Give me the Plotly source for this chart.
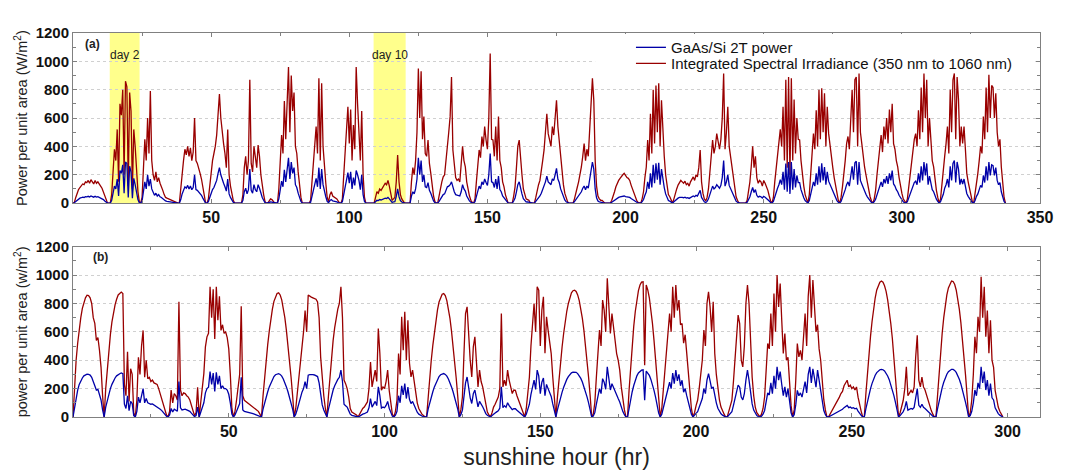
import plotly.graph_objects as go

STEP = 0.5  # sampling interval of both records, in hours

# ---------------- panel (a): measured record ----------------
red_a = [
    0, 5, 40, 70, 95, 110, 120, 135, 130, 150, 145, 160, 140, 165, 150, 135, 160, 140, 150, 130, 120, 105, 80, 50,
    20, 0, 0, 0, 60, 200, 380, 300, 520, 150, 700, 620, 800, 200, 860, 820, 120, 780, 650, 100, 520, 400, 220, 80,
    10, 0, 40, 250, 450, 300, 600, 350, 790, 300, 200, 160, 220, 150, 180, 140, 120, 90, 60, 40, 35, 30, 25, 20,
    15, 10, 5, 0, 0, 0, 80, 200, 300, 380, 340, 400, 330, 390, 300, 360, 600, 300, 280, 250, 210, 170, 110, 40,
    0, 0, 30, 120, 220, 300, 350, 400, 480, 650, 770, 600, 480, 420, 350, 250, 520, 200, 120, 60, 20, 0, 0, 0,
    0, 0, 0, 60, 250, 330, 200, 300, 870, 280, 220, 400, 300, 250, 410, 330, 200, 120, 60, 10, 0, 0, 20, 30,
    25, 10, 0, 0, 0, 100, 300, 480, 350, 720, 450, 800, 960, 500, 900, 650, 780, 400, 350, 220, 110, 40, 0, 0,
    0, 0, 0, 0, 20, 150, 300, 420, 540, 350, 880, 300, 845, 400, 250, 140, 40, 10, 60, 80, 50, 45, 40, 30,
    15, 0, 0, 30, 200, 350, 500, 680, 420, 660, 300, 550, 380, 960, 700, 500, 300, 650, 200, 40, 0, 0, 0, 0,
    0, 0, 0, 40, 80, 70, 100, 90, 110, 120, 140, 130, 160, 120, 60, 20, 30, 40, 150, 340, 150, 60, 30, 10,
    0, 0, 0, 0, 0, 150, 250, 200, 300, 500, 950, 600, 930, 450, 610, 350, 330, 445, 280, 210, 120, 50, 10, 0,
    0, 40, 100, 150, 185, 200, 300, 350, 500, 610, 890, 375, 250, 180, 160, 170, 150, 250, 400, 300, 255, 150, 90, 50,
    20, 5, 0, 30, 150, 300, 375, 320, 470, 400, 540, 445, 380, 600, 1055, 450, 445, 330, 540, 300, 610, 300, 250, 150,
    115, 60, 20, 0, 0, 0, 0, 50, 115, 250, 400, 445, 300, 200, 100, 60, 30, 25, 20, 0, 0, 0, 0, 40,
    90, 130, 160, 220, 300, 375, 480, 630, 490, 445, 400, 540, 480, 600, 725, 540, 445, 300, 210, 130, 70, 30, 10, 0,
    0, 0, 0, 30, 80, 110, 150, 200, 255, 330, 420, 300, 380, 330, 540, 700, 880, 725, 300, 120, 50, 30, 20, 20,
    10, 0, 0, 0, 0, 0, 20, 45, 80, 115, 140, 160, 175, 190, 200, 210, 195, 180, 175, 160, 127, 100, 70, 40,
    20, 5, 0, 0, 30, 80, 180, 255, 445, 300, 630, 350, 800, 420, 830, 500, 845, 400, 725, 490, 330, 200, 115, 60,
    45, 20, 0, 30, 70, 100, 127, 150, 160, 150, 140, 155, 130, 140, 120, 150, 170, 185, 160, 200, 185, 250, 375, 150,
    70, 30, 15, 40, 100, 200, 300, 445, 350, 400, 490, 420, 380, 450, 600, 915, 380, 500, 680, 400, 330, 250, 160, 100,
    45, 20, 0, 0, 0, 0, 0, 0, 20, 80, 150, 260, 400, 250, 330, 180, 140, 160, 150, 120, 160, 140, 115, 90,
    50, 15, 0, 40, 150, 250, 330, 420, 520, 400, 680, 300, 870, 250, 890, 200, 880, 300, 730, 350, 600, 450, 445, 300,
    185, 120, 60, 20, 0, 60, 210, 330, 490, 380, 655, 400, 800, 450, 810, 500, 775, 400, 680, 490, 400, 330, 250, 180,
    115, 60, 20, 0, 40, 115, 200, 300, 420, 470, 380, 600, 800, 500, 870, 890, 400, 915, 500, 420, 330, 255, 200, 140,
    90, 45, 15, 0, 30, 90, 200, 300, 400, 480, 360, 540, 450, 600, 420, 660, 500, 700, 420, 380, 300, 255, 180, 115,
    70, 30, 10, 0, 30, 110, 200, 300, 350, 450, 490, 400, 655, 450, 815, 500, 915, 600, 870, 400, 600, 400, 300, 255,
    150, 90, 40, 0, 30, 115, 200, 330, 420, 540, 350, 800, 500, 870, 915, 450, 890, 730, 400, 540, 420, 540, 380, 210,
    150, 100, 50, 10, 0, 60, 150, 210, 300, 400, 350, 610, 450, 815, 500, 905, 600, 830, 815, 600, 775, 500, 400, 450,
    255, 115, 40, 0,
]
blue_a = [
    0, 2, 12, 22, 30, 35, 38, 42, 40, 46, 44, 48, 43, 50, 46, 42, 48, 43, 45, 40, 37, 32, 25, 15,
    6, 0, 0, 0, 20, 70, 120, 100, 170, 50, 230, 210, 270, 70, 290, 280, 40, 260, 220, 35, 175, 130, 75, 25,
    3, 0, 15, 85, 150, 100, 200, 120, 170, 100, 70, 55, 70, 50, 60, 45, 40, 30, 20, 15, 12, 10, 8, 6,
    5, 3, 2, 0, 0, 0, 25, 65, 95, 115, 105, 125, 100, 120, 95, 110, 200, 95, 90, 80, 65, 55, 35, 12,
    0, 0, 10, 40, 70, 95, 110, 130, 160, 210, 250, 200, 160, 140, 115, 85, 170, 65, 40, 20, 6, 0, 0, 0,
    0, 0, 0, 20, 80, 105, 65, 95, 240, 90, 70, 130, 95, 80, 130, 105, 65, 40, 20, 3, 0, 0, 5, 8,
    7, 3, 0, 0, 0, 30, 95, 155, 115, 235, 150, 260, 320, 170, 290, 210, 250, 130, 110, 70, 35, 12, 0, 0,
    0, 0, 0, 0, 6, 50, 95, 135, 175, 115, 250, 100, 240, 130, 80, 45, 12, 3, 18, 25, 15, 14, 12, 9,
    4, 0, 0, 10, 65, 110, 160, 215, 140, 220, 100, 180, 125, 230, 200, 160, 95, 200, 60, 12, 0, 0, 0, 0,
    0, 0, 0, 10, 20, 18, 25, 22, 28, 30, 35, 32, 40, 30, 15, 5, 8, 10, 45, 100, 45, 18, 8, 3,
    0, 0, 0, 0, 0, 50, 80, 65, 100, 170, 320, 200, 300, 150, 200, 115, 110, 145, 90, 70, 40, 15, 3, 0,
    0, 12, 30, 50, 60, 65, 95, 115, 120, 130, 150, 110, 80, 60, 55, 55, 50, 80, 130, 100, 85, 50, 30, 16,
    6, 2, 0, 10, 50, 95, 120, 100, 150, 130, 170, 145, 125, 200, 350, 150, 145, 110, 170, 100, 190, 95, 80, 50,
    38, 20, 6, 0, 0, 0, 0, 15, 35, 80, 130, 150, 100, 65, 32, 18, 9, 8, 6, 0, 0, 0, 0, 12,
    28, 40, 50, 70, 95, 120, 150, 190, 150, 140, 130, 170, 160, 200, 245, 170, 145, 100, 68, 42, 22, 9, 3, 0,
    0, 0, 0, 10, 25, 35, 48, 65, 80, 105, 120, 95, 120, 105, 170, 230, 290, 240, 100, 38, 15, 9, 6, 6,
    3, 0, 0, 0, 0, 0, 6, 14, 22, 30, 35, 40, 44, 46, 48, 50, 46, 45, 43, 40, 32, 25, 18, 10,
    5, 1, 0, 0, 10, 25, 55, 80, 150, 100, 210, 110, 270, 140, 280, 165, 285, 130, 240, 160, 110, 65, 36, 18,
    14, 6, 0, 10, 20, 28, 35, 40, 42, 40, 38, 42, 35, 38, 33, 40, 45, 50, 45, 55, 50, 70, 90, 40,
    20, 9, 4, 12, 30, 60, 90, 120, 100, 110, 130, 115, 105, 125, 180, 300, 120, 150, 200, 125, 100, 75, 50, 30,
    14, 6, 0, 0, 0, 0, 0, 0, 6, 25, 45, 80, 110, 75, 95, 55, 42, 48, 45, 36, 48, 42, 35, 27,
    15, 4, 0, 12, 48, 80, 105, 130, 165, 130, 220, 95, 280, 80, 290, 65, 290, 95, 240, 110, 195, 145, 145, 95,
    60, 38, 18, 6, 0, 18, 65, 100, 150, 120, 210, 130, 260, 145, 280, 160, 255, 130, 220, 155, 130, 105, 80, 55,
    36, 18, 6, 0, 12, 36, 62, 95, 130, 150, 120, 195, 260, 165, 285, 295, 130, 290, 160, 135, 105, 80, 62, 44,
    28, 14, 5, 0, 10, 28, 62, 95, 125, 150, 115, 170, 140, 190, 135, 210, 160, 230, 135, 120, 95, 80, 55, 36,
    22, 9, 3, 0, 10, 35, 65, 95, 110, 145, 155, 130, 210, 145, 260, 160, 290, 195, 280, 130, 190, 130, 95, 80,
    48, 28, 12, 0, 10, 36, 62, 105, 130, 170, 110, 260, 160, 280, 300, 145, 290, 240, 130, 170, 135, 170, 120, 68,
    48, 32, 15, 3, 0, 18, 48, 65, 95, 125, 110, 195, 145, 260, 160, 290, 195, 270, 265, 195, 250, 160, 130, 145,
    80, 36, 12, 0,
]

# ---------------- panel (b): modelled record ----------------
red_b = [
    0, 250, 400, 520, 620, 700, 765, 810, 840, 858, 855, 840, 800, 700, 660, 540, 560, 470, 350, 150, 0, 200, 350, 480,
    580, 670, 740, 790, 830, 860, 870, 880, 870, 230, 150, 460, 110, 340, 300, 30, 0, 120, 420, 300, 500, 610, 280, 400,
    270, 280, 250, 260, 240, 235, 230, 200, 165, 130, 90, 50, 15, 0, 40, 190, 100, 165, 150, 120, 812, 190, 150, 170,
    165, 150, 140, 120, 80, 40, 10, 30, 210, 0, 100, 165, 306, 494, 565, 590, 918, 700, 900, 550, 918, 682, 850, 610,
    650, 590, 600, 560, 480, 300, 60, 0, 40, 120, 200, 300, 780, 150, 118, 110, 100, 90, 80, 75, 70, 60, 50, 40,
    20, 0, 150, 280, 400, 510, 605, 690, 760, 815, 850, 870, 875, 860, 825, 770, 700, 610, 510, 400, 280, 150, 0, 60,
    165, 300, 420, 520, 600, 750, 600, 860, 850, 845, 840, 835, 830, 810, 700, 420, 260, 150, 60, 0, 150, 300, 430, 540,
    630, 700, 760, 800, 918, 700, 260, 235, 200, 141, 60, 35, 30, 25, 15, 0, 20, 47, 60, 70, 90, 106, 200, 388,
    212, 280, 330, 250, 624, 447, 188, 212, 200, 250, 330, 188, 80, 20, 0, 40, 120, 447, 300, 706, 470, 741, 400, 682,
    380, 282, 330, 250, 141, 100, 60, 35, 20, 10, 0, 0, 150, 280, 400, 505, 600, 685, 755, 810, 845, 865, 870, 855,
    820, 765, 695, 605, 505, 395, 275, 145, 0, 50, 141, 447, 729, 776, 565, 400, 282, 494, 565, 400, 212, 330, 250, 212,
    150, 70, 35, 15, 0, 30, 70, 90, 118, 140, 200, 729, 212, 259, 220, 330, 260, 212, 165, 190, 188, 150, 118, 90,
    60, 25, 0, 60, 200, 282, 500, 682, 800, 600, 918, 894, 500, 753, 847, 450, 706, 612, 541, 447, 282, 100, 0, 140,
    270, 390, 495, 590, 675, 745, 800, 845, 875, 890, 894, 885, 860, 820, 765, 695, 610, 510, 400, 280, 150, 0, 20, 100,
    282, 447, 612, 500, 824, 753, 600, 977, 800, 588, 729, 635, 560, 447, 400, 330, 212, 120, 50, 0, 0, 190, 360, 510,
    640, 745, 830, 890, 930, 950, 953, 365, 930, 895, 840, 760, 660, 540, 400, 230, 80, 0, 60, 200, 350, 500, 600, 729,
    600, 918, 700, 929, 750, 824, 650, 659, 520, 580, 450, 330, 165, 60, 0, 30, 80, 118, 200, 282, 400, 612, 500, 800,
    882, 776, 600, 812, 447, 300, 188, 120, 70, 40, 20, 0, 0, 40, 90, 118, 250, 400, 550, 718, 659, 400, 353, 500,
    800, 929, 800, 494, 282, 150, 70, 30, 10, 0, 20, 60, 141, 300, 518, 480, 729, 500, 870, 600, 1000, 776, 941, 682,
    447, 588, 400, 420, 259, 80, 0, 50, 259, 518, 424, 470, 400, 600, 729, 500, 850, 1000, 700, 965, 776, 600, 650, 480,
    400, 235, 120, 50, 0, 0, 20, 40, 55, 70, 90, 120, 140, 165, 180, 220, 240, 259, 212, 224, 200, 212, 190, 212,
    140, 80, 40, 0, 0, 160, 310, 450, 570, 675, 765, 840, 895, 930, 950, 958, 950, 925, 885, 825, 750, 660, 555, 430,
    295, 150, 0, 30, 80, 118, 200, 353, 150, 165, 188, 170, 212, 424, 576, 259, 212, 282, 212, 190, 150, 118, 80, 45,
    20, 0, 0, 165, 320, 465, 590, 700, 790, 860, 910, 942, 958, 955, 935, 895, 835, 760, 665, 555, 430, 295, 150, 0,
    30, 120, 300, 565, 450, 706, 600, 988, 700, 918, 565, 750, 450, 682, 400, 350, 188, 120, 70, 40, 15, 0,
]
blue_b = [
    0, 70, 140, 190, 230, 255, 275, 290, 298, 302, 300, 295, 280, 250, 230, 190, 195, 160, 120, 50, 0, 70, 120, 165,
    200, 230, 255, 275, 290, 300, 305, 310, 305, 90, 60, 150, 45, 110, 95, 10, 0, 40, 140, 100, 160, 200, 100, 130,
    100, 95, 90, 92, 85, 80, 75, 65, 55, 45, 30, 17, 5, 0, 15, 60, 35, 55, 50, 40, 250, 65, 50, 55,
    55, 50, 45, 40, 27, 13, 3, 10, 70, 0, 35, 55, 100, 170, 200, 210, 320, 230, 310, 180, 315, 230, 290, 200,
    220, 200, 200, 190, 160, 100, 20, 0, 15, 40, 65, 95, 280, 50, 40, 38, 35, 32, 28, 25, 22, 18, 15, 12,
    6, 0, 55, 100, 140, 178, 212, 240, 265, 285, 298, 304, 305, 300, 288, 268, 243, 212, 178, 140, 100, 55, 0, 20,
    55, 100, 140, 175, 200, 250, 200, 295, 298, 300, 298, 296, 292, 285, 240, 140, 85, 50, 20, 0, 55, 105, 150, 190,
    220, 245, 265, 280, 330, 250, 90, 80, 70, 45, 20, 12, 10, 8, 5, 0, 6, 15, 20, 23, 30, 35, 65, 130,
    70, 90, 110, 80, 212, 150, 62, 70, 65, 82, 110, 62, 26, 6, 0, 13, 40, 150, 100, 220, 155, 235, 130, 210,
    125, 95, 110, 85, 48, 34, 20, 12, 7, 3, 0, 0, 55, 100, 140, 178, 212, 240, 265, 285, 298, 305, 306, 300,
    288, 268, 243, 212, 178, 140, 100, 55, 0, 16, 48, 150, 240, 282, 190, 135, 95, 165, 190, 135, 72, 110, 85, 72,
    50, 24, 12, 5, 0, 10, 22, 28, 36, 44, 62, 212, 66, 80, 68, 100, 80, 66, 52, 58, 58, 47, 37, 28,
    19, 8, 0, 20, 65, 90, 160, 220, 260, 195, 330, 290, 165, 245, 275, 150, 230, 200, 175, 145, 92, 32, 0, 50,
    96, 138, 175, 210, 240, 265, 284, 300, 311, 316, 318, 315, 306, 292, 272, 247, 217, 181, 142, 100, 53, 0, 6, 32,
    90, 145, 200, 165, 270, 245, 195, 353, 260, 190, 235, 205, 180, 145, 130, 106, 68, 38, 16, 0, 0, 65, 125, 178,
    222, 260, 290, 310, 324, 330, 332, 118, 324, 312, 293, 265, 230, 188, 140, 80, 28, 0, 20, 65, 115, 165, 200, 245,
    200, 310, 235, 330, 255, 300, 220, 259, 175, 200, 150, 110, 55, 20, 0, 10, 26, 38, 65, 92, 130, 200, 165, 260,
    306, 255, 200, 212, 145, 100, 62, 40, 23, 13, 6, 0, 0, 13, 30, 38, 82, 130, 180, 224, 210, 141, 120, 165,
    260, 330, 260, 160, 92, 49, 23, 10, 3, 0, 6, 20, 46, 100, 170, 155, 240, 165, 290, 200, 353, 260, 320, 230,
    150, 212, 140, 200, 118, 30, 0, 16, 85, 188, 150, 170, 140, 210, 250, 170, 300, 353, 240, 340, 270, 210, 330, 260,
    200, 100, 45, 18, 0, 0, 6, 12, 17, 22, 28, 37, 43, 50, 55, 66, 72, 82, 66, 70, 62, 66, 58, 62,
    42, 24, 12, 0, 0, 58, 110, 158, 200, 237, 268, 294, 313, 326, 333, 336, 333, 324, 310, 289, 263, 231, 195, 151,
    103, 53, 0, 10, 26, 38, 64, 110, 48, 53, 60, 55, 68, 135, 200, 82, 68, 90, 68, 60, 48, 38, 26, 14,
    6, 0, 0, 58, 112, 163, 207, 245, 277, 301, 319, 330, 336, 335, 328, 314, 293, 266, 233, 195, 151, 103, 53, 0,
    10, 40, 100, 190, 150, 240, 200, 353, 240, 320, 190, 260, 150, 235, 135, 120, 65, 40, 24, 13, 5, 0,
]

hours_a = [i * STEP for i in range(len(red_a))]
hours_b = [i * STEP for i in range(len(red_b))]

x_ticks_a = [50, 100, 150, 200, 250, 300, 350]
x_ticks_b = [50, 100, 150, 200, 250, 300]
y_ticks = [0, 200, 400, 600, 800, 1000, 1200]

# highlighted days in panel (a)
day_labels = ["day 2", "day 10"]
day_start = [13.3, 108.8]
day_end = [24.1, 120.4]

RED = "#990000"
BLUE = "#0000A8"
FRAME = "#808080"
FONT = "Liberation Sans, Arial, sans-serif"

fig = go.Figure()
fig.add_trace(go.Scatter(x=hours_a, y=red_a, mode="lines", line=dict(color=RED, width=1.3),
                         name="Integrated Spectral Irradiance (350 nm to 1060 nm)", legend="legend2",
                         xaxis="x", yaxis="y"))
fig.add_trace(go.Scatter(x=hours_a, y=blue_a, mode="lines", line=dict(color=BLUE, width=1.3),
                         name="GaAs/Si 2T power", legend="legend", xaxis="x", yaxis="y"))
fig.add_trace(go.Scatter(x=hours_b, y=red_b, mode="lines", line=dict(color=RED, width=1.3),
                         showlegend=False, xaxis="x2", yaxis="y2"))
fig.add_trace(go.Scatter(x=hours_b, y=blue_b, mode="lines", line=dict(color=BLUE, width=1.3),
                         showlegend=False, xaxis="x2", yaxis="y2"))

tick_font = dict(family=FONT, size=16, color="#111", weight="bold")
ytick_font = dict(family=FONT, size=15, color="#111", weight="bold")


def x_axis(rng, ticks, anchor):
    return dict(range=rng, tickvals=ticks, ticks="inside", ticklen=4, tickcolor=FRAME,
                showline=True, linecolor=FRAME, linewidth=1, mirror="allticks",
                showgrid=False, zeroline=False, tickfont=tick_font, anchor=anchor,
                minor=dict(tick0=0, dtick=25, ticks="inside", ticklen=3, tickcolor=FRAME, showgrid=False))


def y_axis(domain, title, anchor):
    return dict(domain=domain, range=[0, 1200], tickvals=y_ticks, ticks="inside", ticklen=4,
                tickcolor=FRAME, showline=True, linecolor=FRAME, linewidth=1, mirror="allticks",
                showgrid=True, gridcolor="#d0d0d0", griddash="dot", gridwidth=1, zeroline=False,
                tickfont=ytick_font, anchor=anchor,
                title=dict(text=title, font=dict(family=FONT, size=14.5, color="#222"), standoff=4),
                minor=dict(tick0=0, dtick=100, ticks="inside", ticklen=3, tickcolor=FRAME, showgrid=False))


def legend_box(y):
    # transparent boxes; the white backing is a shape so the two rows can sit close together
    return dict(x=0.577, y=y, xanchor="left", yanchor="top", bgcolor="rgba(0,0,0,0)", borderwidth=0,
                font=dict(family=FONT, size=15, color="#111"), itemwidth=30)


xa = x_axis([0, 350], x_ticks_a, "y")
xb = x_axis([0, 310.4], x_ticks_b, "y2")
xb["title"] = dict(text="sunshine hour (hr)", font=dict(family=FONT, size=23, color="#222"), standoff=12)
xb["automargin"] = False

fig.update_layout(
    width=1065, height=470,
    margin=dict(l=73, r=20, t=33, b=53),
    paper_bgcolor="white", plot_bgcolor="white",
    xaxis=xa, xaxis2=xb,
    yaxis=y_axis([0.557, 1.0], "Power per unit area (W/m<sup>2</sup>)", "x"),
    yaxis2=y_axis([0.0, 0.4435], "power per unit area (w/m<sup>2</sup>)", "x2"),
    legend=legend_box(1.005),
    legend2=legend_box(0.963),
    showlegend=True,
)

# white backing behind the legend entries
fig.add_shape(type="rect", xref="x domain", yref="y domain", x0=0.540, x1=0.995, y0=0.775, y1=0.994,
              fillcolor="white", line=dict(width=0), layer="above")

for lab, s, e in zip(day_labels, day_start, day_end):
    fig.add_shape(type="rect", xref="x", yref="y", x0=s, x1=e, y0=0, y1=1200,
                  fillcolor="#FFFF8C", line=dict(width=0), layer="below")
    fig.add_annotation(x=(s + e) / 2, y=0.872, xref="x", yref="y domain", text=lab, showarrow=False,
                       xanchor="center", yanchor="middle",
                       font=dict(family=FONT, size=12, color="#222"))

fig.add_annotation(x=0.0206, y=0.935, xref="x domain", yref="y domain", text="<b>(a)</b>",
                   xanchor="center", yanchor="middle",
                   showarrow=False, font=dict(family=FONT, size=12, color="#222"))
fig.add_annotation(x=0.028, y=0.939, xref="x2 domain", yref="y2 domain", text="<b>(b)</b>",
                   xanchor="center", yanchor="middle",
                   showarrow=False, font=dict(family=FONT, size=12, color="#222"))

fig.write_html("out.html")
